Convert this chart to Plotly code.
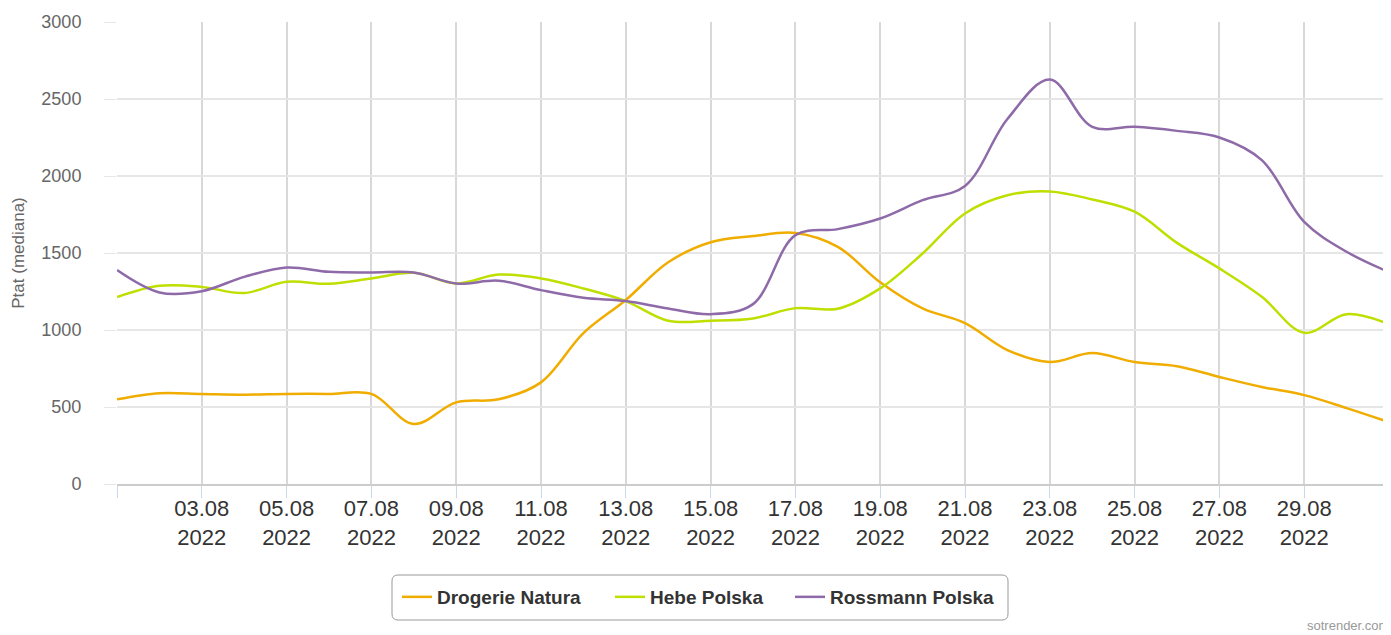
import plotly.graph_objects as go

# ===================================
# DATA (daily median, August 2022)
# ===================================
days = [f"2022-08-{d:02d}" for d in range(1, 32)]

drogerie_natura = [550, 590, 585, 580, 585, 585, 585, 390, 530, 550,
                   660, 980, 1195, 1440, 1570, 1610, 1630, 1540, 1310, 1140,
                   1045, 870, 792, 850, 792, 765, 695, 630, 577, 493, 402]

hebe_polska = [1214, 1287, 1280, 1240, 1313, 1300, 1335, 1371, 1302, 1360,
               1335, 1270, 1188, 1060, 1060, 1075, 1142, 1138, 1270, 1497,
               1757, 1875, 1900, 1848, 1768, 1566, 1400, 1216, 982, 1103, 1038]

rossmann_polska = [1389, 1244, 1252, 1345, 1406, 1378, 1374, 1374, 1302, 1320,
                   1259, 1209, 1188, 1140, 1103, 1168, 1616, 1655, 1724, 1843,
                   1935, 2370, 2626, 2319, 2319, 2293, 2250, 2103, 1702, 1508, 1376]

series = [
    ("Drogerie Natura", drogerie_natura, "#f0ad00"),
    ("Hebe Polska", hebe_polska, "#bfdf00"),
    ("Rossmann Polska", rossmann_polska, "#8e6ba8"),
]

tick_days = days[::2]
tick_text = [""] + [f"{d[8:10]}.{d[5:7]}<br>{d[:4]}" for d in tick_days[1:-1]] + [""]

y_ticks = [0, 500, 1000, 1500, 2000, 2500, 3000]

# ===================================
# CHART
# ===================================
# page body has an 8px margin, so the figure is drawn 8px smaller
W, H = 1383, 627
ML, MR, MT, MB = 109, 2, 14, 151
PW, PH = W - ML - MR, H - MT - MB


def px_x(x):
    # figure pixel -> paper x
    return (x - ML) / PW


def px_y(y):
    # figure pixel -> paper y
    return (H - MB - y) / PH


fig = go.Figure()
legend_names = ["legend", "legend2", "legend3"]
for (name, values, color), lg in zip(series, legend_names):
    fig.add_trace(go.Scatter(
        x=days, y=values, name=name, mode="lines", legend=lg,
        line=dict(color=color, width=2.5, shape="spline", smoothing=1.0),
    ))

legend_font = dict(size=19, color="#333333", family="Liberation Sans, Arial, sans-serif", weight="bold")
legend_x = [389, 602, 782]
legends = {}
for lg, lx in zip(legend_names, legend_x):
    legends[lg] = dict(
        orientation="h", x=px_x(lx), xanchor="left", y=px_y(589), yanchor="middle",
        borderwidth=0, bgcolor="rgba(0,0,0,0)", font=legend_font,
    )

fig.update_layout(
    width=W, height=H,
    margin=dict(l=ML, r=MR, t=MT, b=MB, autoexpand=False),
    plot_bgcolor="white", paper_bgcolor="white",
    font=dict(family="Liberation Sans, Arial, sans-serif", color="#333333"),
    showlegend=True,
    **legends,
)

# rounded legend frame
x0, x1, y0, y1, r = 384, 1000, 567, 612, 6
rx, ry = r / PW, r / PH
X0, X1, Y0, Y1 = px_x(x0), px_x(x1), px_y(y1), px_y(y0)
path = (f"M {X0+rx},{Y1} L {X1-rx},{Y1} Q {X1},{Y1} {X1},{Y1-ry} "
        f"L {X1},{Y0+ry} Q {X1},{Y0} {X1-rx},{Y0} L {X0+rx},{Y0} "
        f"Q {X0},{Y0} {X0},{Y0+ry} L {X0},{Y1-ry} Q {X0},{Y1} {X0+rx},{Y1} Z")
fig.add_shape(type="path", path=path, xref="paper", yref="paper",
              line=dict(color="#999999", width=1), fillcolor="rgba(0,0,0,0)", layer="below")

fig.update_xaxes(
    type="date",
    range=[days[0], days[-1]],
    tickvals=tick_days, ticktext=tick_text,
    tickfont=dict(size=22, color="#333333"),
    showgrid=True, gridcolor="#d8d8d8", gridwidth=1.5,
    showline=True, linecolor="#cccccc", linewidth=2,
    ticks="outside", ticklen=12, tickcolor="#ccd6eb", tickwidth=1,
    ticklabelstandoff=-8,
    zeroline=False, automargin=False,
)

fig.update_yaxes(
    range=[0, 3000],
    tickvals=y_ticks,
    tickfont=dict(size=18, color="#666666"),
    title=dict(text="Ptat (mediana)", font=dict(size=17, color="#666666"), standoff=12),
    showgrid=True, gridcolor="#e6e6e6", gridwidth=1.5,
    ticks="outside", ticklen=12, tickcolor="#e6e6e6",
    ticklabelstandoff=19,
    zeroline=False, showline=False, automargin=False,
)

fig.add_annotation(
    text="sotrender.com", xref="paper", yref="paper",
    x=1, xshift=MR, y=px_y(H), xanchor="right", yanchor="bottom",
    showarrow=False, font=dict(size=13, color="#999999"),
)

fig.write_html("out.html")
